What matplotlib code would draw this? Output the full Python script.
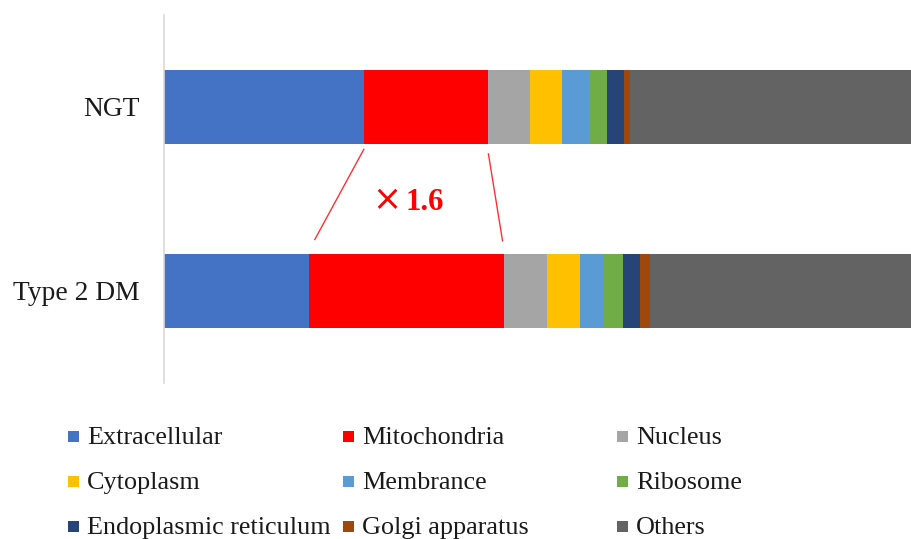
import matplotlib
matplotlib.use("Agg")
import matplotlib.pyplot as plt
from matplotlib.patches import Rectangle
import numpy as np

groups = ["Type 2 DM", "NGT"]  # bottom to top
compartments = ["Extracellular", "Mitochondria", "Nucleus", "Cytoplasm", "Membrance",
                "Ribosome", "Endoplasmic reticulum", "Golgi apparatus", "Others"]
colors = ["#4472C4", "#FF0000", "#A5A5A5", "#FFC000", "#5B9BD5",
          "#70AD47", "#264478", "#9E480E", "#636363"]
ngt_values = [24.0, 15.0, 5.0, 3.9, 3.2, 2.2, 2.0, 0.8, 43.9]
t2dm_values = [17.4, 23.5, 5.2, 3.9, 2.9, 2.3, 2.1, 1.1, 41.6]
fold_label = "1.6"

plt.rcParams['font.family'] = ['Liberation Serif', 'DejaVu Serif']

W, H = 912, 539
fig = plt.figure(figsize=(W / 100, H / 100), dpi=100)
ax = fig.add_axes([164.5 / W, 1 - 383 / H, 1 - 164.5 / W, (383 - 15) / H])

data = np.array([t2dm_values, ngt_values])
y = np.arange(len(groups))
left = np.zeros(len(groups))
for i, name in enumerate(compartments):
    ax.barh(y, data[:, i], left=left, height=0.4, color=colors[i], label=name, linewidth=0)
    left += data[:, i]

ax.set_ylim(-0.5, 1.5)
ax.set_xlim(0, 90)
ax.set_yticks(y)
ax.set_yticklabels(groups, fontsize=19.8, color='#1a1a1a')
ax.tick_params(axis='y', length=0, pad=18)
ax.set_xticks([])
for s in ['top', 'right', 'bottom']:
    ax.spines[s].set_visible(False)
ax.spines['left'].set_color('#d9d9d9')
ax.spines['left'].set_linewidth(1.2)

# connecting lines for mitochondria
ngt_l = ngt_values[0]
ngt_r = ngt_values[0] + ngt_values[1]
t2_l = t2dm_values[0]
t2_r = t2dm_values[0] + t2dm_values[1]
ax.plot([ngt_l, t2_l + 0.7], [0.77, 0.28], color='#FF3030', lw=1.0)
ax.plot([ngt_r, t2_r - 0.2], [0.745, 0.273], color='#FF3030', lw=1.0)
ax.text(26.8, 0.495, "\u00d7", color='#FF0000', fontsize=25, ha='center', va='center',
        family=['DejaVu Sans'])
ax.text(29.0, 0.48, fold_label, color='#FF0000', fontsize=22, fontweight='bold',
        ha='left', va='center')

# legend (manual, Excel-like grid)
col_x = [68, 343, 617]
row_y = [436, 481.5, 526.5]
ms = 11
for i, name in enumerate(compartments):
    c, r = i % 3, i // 3
    x0 = col_x[c]
    yc = row_y[r]
    fig.patches.append(Rectangle(((x0) / W, 1 - (yc + ms / 2) / H), ms / W, ms / H,
                                 transform=fig.transFigure, facecolor=colors[i],
                                 edgecolor='none'))
    fig.text((x0 + ms + 8) / W, 1 - (yc + 7.5) / H, name, fontsize=18.8, color='#1a1a1a',
             ha='left', va='baseline')

fig.savefig("out.png", dpi=100)
